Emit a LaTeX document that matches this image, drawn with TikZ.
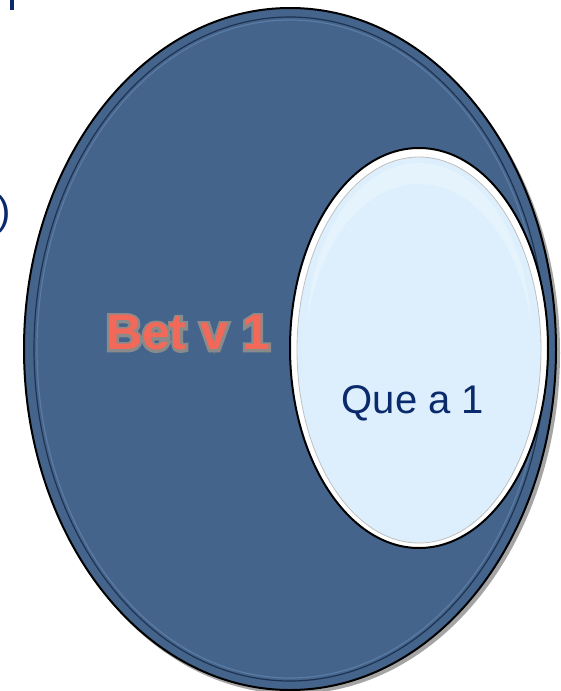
\documentclass[tikz,border=0pt]{standalone}
\usepackage{fontspec}
\setmainfont{Liberation Sans}
\definecolor{bigfill}{HTML}{45648B}
\definecolor{bigrim}{HTML}{5A7BA3}
\definecolor{bigdark}{HTML}{1E3352}
\definecolor{smallfill}{HTML}{DDEFFD}
\definecolor{txtblue}{HTML}{0B2A6B}
\definecolor{betcol}{HTML}{F2695A}
\definecolor{betline}{HTML}{8A8A8A}
\newcommand{\strokedtext}[1]{\special{pdf:literal direct q 1 Tr 5 w 0.54 0.54 0.54 RG}#1\special{pdf:literal direct Q}}
\begin{document}
\begin{tikzpicture}[x=1pt,y=-1pt,
  bettext/.style={font=\fontsize{50}{50}\selectfont\bfseries, inner sep=0pt},
  quetext/.style={font=\fontsize{40}{40}\selectfont, text=txtblue, inner sep=0pt}]
\useasboundingbox (0,0) rectangle (560,691);
\begin{scope}
\clip (0,0) rectangle (560,691);
% big ellipse
\fill[black!70, opacity=0.5] (293,353) ellipse [x radius=267, y radius=341];
\filldraw[fill=bigfill, draw=black, line width=2pt] (290,349) ellipse [x radius=266, y radius=341];
\draw[bigdark, line width=1.2pt] (290,349) ellipse [x radius=256, y radius=332];
\draw[bigrim, line width=1.2pt] (290,349) ellipse [x radius=253, y radius=329];
% small ellipse
\filldraw[fill=white, draw=black, line width=2pt] (419,348) ellipse [x radius=129, y radius=200];
\fill[smallfill] (419,350) ellipse [x radius=122, y radius=193];
\draw[black!25, line width=0.8pt] (419,350) ellipse [x radius=122, y radius=193];
\fill[white, opacity=0.25] (419,335) ellipse [x radius=112, y radius=172];
\fill[smallfill] (419,358) ellipse [x radius=114, y radius=174];
% clipped marks at left
\fill[txtblue] (10,0) rectangle (14,10);
\node[font=\fontsize{40}{40}\selectfont, text=txtblue, inner sep=0pt] (paren) at (4,214) {)};
\end{scope}
% Bet v 1 with grey outline
\node[bettext, text=betline] (betoutline) at (188,333) {\strokedtext{Bet v 1}};
\node[bettext, text=betcol] (bet) at (188,333) {Bet v 1};
\node[quetext] (que) at (413,403) {Que a 1};
\end{tikzpicture}
\end{document}
